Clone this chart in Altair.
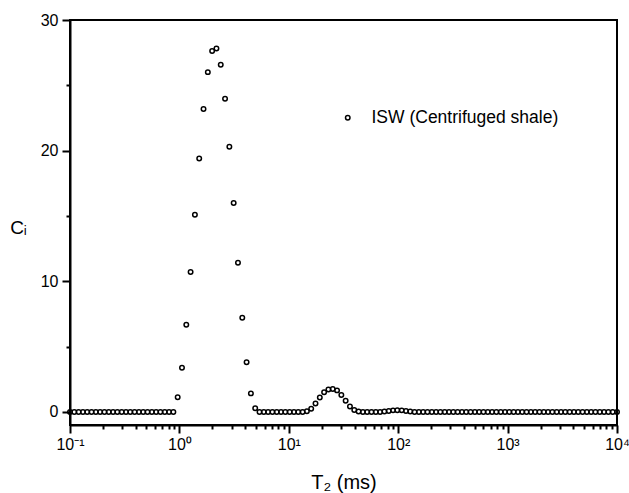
import altair as alt
import numpy as np
import pandas as pd

# T2 acquisition grid: 128 log-spaced relaxation times from 0.1 ms to 10^4 ms
T2_MIN_MS = 0.1
T2_MAX_MS = 10000.0
N_POINTS = 128
T2_MS = np.logspace(np.log10(T2_MIN_MS), np.log10(T2_MAX_MS), N_POINTS)

# C_i, one value per grid point (index 0..127)
C_I = [
    0, 0, 0, 0, 0, 0, 0, 0, 0, 0,
    0, 0, 0, 0, 0, 0, 0, 0, 0, 0,
    0, 0, 0, 0, 0,
    1.12, 3.39, 6.68, 10.71, 15.10, 19.40, 23.18, 26.01, 27.62, 27.82,
    26.57, 23.97, 20.30, 15.99, 11.42, 7.21, 3.80, 1.42, 0.28,
    0, 0, 0, 0, 0, 0, 0, 0, 0, 0, 0,
    0.05, 0.25, 0.65, 1.10, 1.50, 1.72, 1.75, 1.65, 1.30, 0.85, 0.42, 0.15, 0.04,
    0, 0, 0, 0, 0,
    0.03, 0.08, 0.12, 0.13, 0.12, 0.08, 0.03,
    0, 0, 0, 0, 0, 0, 0, 0, 0, 0,
    0, 0, 0, 0, 0, 0, 0, 0, 0, 0,
    0, 0, 0, 0, 0, 0, 0, 0, 0, 0,
    0, 0, 0, 0, 0, 0, 0, 0, 0, 0,
    0, 0, 0, 0, 0, 0, 0, 0,
]
SERIES_NAME = "ISW (Centrifuged shale)"

X_MAJOR = [0.1, 1, 10, 100, 1000, 10000]
X_LABELS = ["10⁻¹", "10⁰", "10¹", "10²", "10³", "10⁴"]
X_MINOR = [0.2, 0.3, 0.4, 0.5, 0.6, 0.7, 0.8, 0.9,
           2, 3, 4, 5, 6, 7, 8, 9,
           20, 30, 40, 50, 60, 70, 80, 90,
           200, 300, 400, 500, 600, 700, 800, 900,
           2000, 3000, 4000, 5000, 6000, 7000, 8000, 9000]
Y_MAJOR = [0, 10, 20, 30]
Y_MINOR = [5, 15, 25]

df = pd.DataFrame({"t2": T2_MS, "ci": C_I, "series": SERIES_NAME})

label_expr_x = ""
for v, lab in zip(X_MAJOR, X_LABELS):
    label_expr_x += f"datum.value == {v} ? '{lab}' : "
label_expr_x += "''"

FONT = "Liberation Sans"
TICK_MAJOR = "black"
TICK_MINOR = "black"
FRAME = "black"
x_scale = alt.Scale(type="log", domain=[0.1, 10000], nice=False)
y_scale = alt.Scale(domain=[-1, 30], nice=False, zero=False)

points = alt.Chart(df).mark_point(filled=False, size=20, strokeWidth=1.5, opacity=1).encode(
    x=alt.X("t2:Q", scale=x_scale,
            axis=alt.Axis(orient="bottom", values=X_MAJOR, labelExpr=label_expr_x,
                          tickSize=8, tickColor=TICK_MAJOR, tickWidth=2,
                          domainColor="black", domainWidth=2, grid=False,
                          labelPadding=3, labelFontSize=16, labelFont=FONT, labelColor="black",
                          labelFlush=False, labelOverlap=False,
                          title="T₂ (ms)", titleFontSize=20, titleFont=FONT,
                          titleFontWeight="normal", titleColor="black",
                          titleY=63, titleBaseline="alphabetic")),
    y=alt.Y("ci:Q", scale=y_scale,
            axis=alt.Axis(orient="left", values=Y_MAJOR,
                          tickSize=8, tickColor=TICK_MAJOR, tickWidth=2,
                          domainColor="black", domainWidth=2, grid=False,
                          labelPadding=4, labelFontSize=16, labelFont=FONT, labelColor="black",
                          title="Cᵢ", titleFontSize=19, titleFont=FONT,
                          titleFontWeight="normal", titleColor="black",
                          titleAngle=0, titleX=-52, titleY=207,
                          titleAlign="center", titleBaseline="middle")),
    color=alt.Color("series:N",
                    scale=alt.Scale(range=["black"]),
                    legend=alt.Legend(orient="none", legendX=269, legendY=89,
                                      title=None, padding=0, symbolType="circle",
                                      symbolSize=20, symbolStrokeWidth=1.5,
                                      symbolStrokeColor="black", symbolFillColor="white",
                                      labelFontSize=17.5, labelFont=FONT, labelColor="black",
                                      labelOffset=15, labelLimit=400)),
)

minor = alt.Chart(df).mark_point(opacity=0).encode(
    x=alt.X("t2:Q", scale=x_scale,
            axis=alt.Axis(orient="bottom", values=X_MINOR, tickSize=4, labels=False,
                          domain=False, title=None, tickColor=TICK_MINOR, tickWidth=2,
                          grid=False)),
    y=alt.Y("ci:Q", scale=y_scale,
            axis=alt.Axis(orient="left", values=Y_MINOR, tickSize=4, labels=False,
                          domain=False, title=None, tickColor=TICK_MINOR, tickWidth=2,
                          grid=False)),
)

chart = alt.layer(points, minor).resolve_axis(x="independent", y="independent").properties(
    width=547, height=405,
    autosize=alt.AutoSizeParams(type="none"),
    padding={"left": 70, "top": 20, "right": 12, "bottom": 68},
).configure_view(
    stroke=FRAME, strokeWidth=2
)

chart.save("out.html", embed_options={"renderer": "svg", "actions": False})
